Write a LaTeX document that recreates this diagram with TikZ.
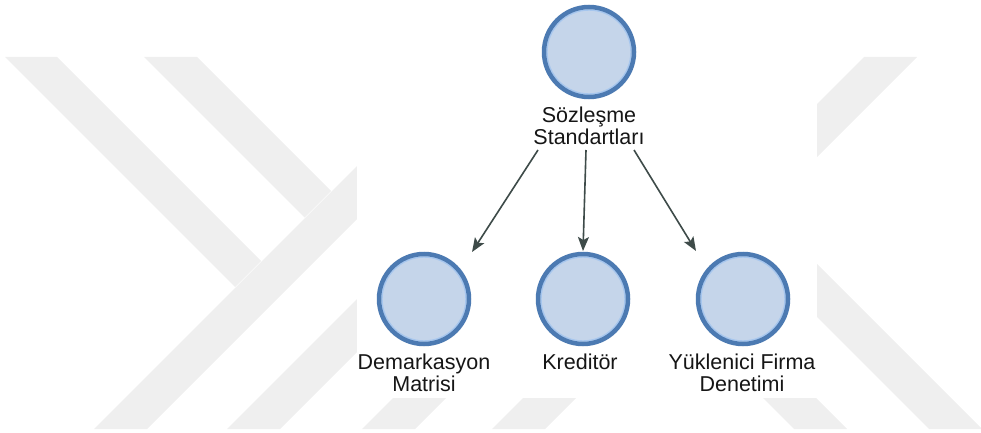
\documentclass[tikz,border=0pt]{standalone}
\usepackage{fontspec}
\setmainfont{Liberation Sans}
\usetikzlibrary{arrows.meta}

\definecolor{mark}{HTML}{EFEFEF}
\definecolor{ring}{HTML}{4C7AB2}
\definecolor{ringhi}{HTML}{A6C6EE}
\definecolor{disc}{HTML}{C5D5EA}
\definecolor{edge}{HTML}{3E4B49}
\definecolor{ink}{HTML}{161616}

\begin{document}
\begin{tikzpicture}[x=1pt,y=-1pt,
  bubble/.style={circle, draw=ring, line width=4.5pt, fill=disc,
    minimum size=90pt, inner sep=0pt,
    path picture={\draw[ringhi, line width=1.4pt]
      (path picture bounding box.center) circle (42pt);}},
  % multi-line captions sit on the baseline of their last line
  caption/.style={font=\fontsize{21.5}{22.5}\selectfont, text=ink,
    align=center, inner sep=0pt, anchor=base},
  link/.style={draw=edge, line width=1.6pt,
    -{Stealth[length=14pt,width=11pt,inset=3pt]}},
  band/.style={fill=mark}
]
\useasboundingbox (0,0) rectangle (981,433);

% faint background emblem: diagonal bands
\begin{scope}
  \clip (0,57) rectangle (981,429);
  % two short descending strokes on the left
  \fill[band] (5,57) -- (57,57) -- (261,261) -- (235,287) -- cycle;
  \fill[band] (144,57) -- (197,57) -- (331,191) -- (304.5,217.5) -- cycle;
  % rising strokes
  \fill[band] (94,429) -- (147,429) -- (519,57) -- (466,57) -- cycle;
  \fill[band] (227,429) -- (280,429) -- (652,57) -- (599,57) -- cycle;
  \fill[band] (362,429) -- (415,429) -- (787,57) -- (734,57) -- cycle;
  \fill[band] (492,429) -- (545,429) -- (917,57) -- (864,57) -- cycle;
  % descending strokes on the right
  \fill[band] (422,57) -- (475,57) -- (847,429) -- (794,429) -- cycle;
  \fill[band] (557,57) -- (610,57) -- (982,429) -- (929,429) -- cycle;
\end{scope}

% white panel behind the diagram
\fill[white] (357,0) rectangle (817,398);

% nodes
\node[bubble] (c0) at (589,52) {};
\node[bubble] (c1) at (424,299) {};
\node[bubble] (c2) at (583,299) {};
\node[bubble] (c3) at (743,299) {};

\node[caption] (l0) at (589,144.5) {Sözleşme\\Standartları};
\node[caption] (l1) at (424,391.5) {Demarkasyon\\Matrisi};
\node[caption] (l2) at (580,369) {Kreditör};
\node[caption] (l3) at (742,391.5) {Yüklenici Firma\\Denetimi};

% connector end points
\coordinate (o1) at (538,150);
\coordinate (o2) at (586,150);
\coordinate (o3) at (634,150);
\coordinate (t1) at (472,252);
\coordinate (t2) at (583,251);
\coordinate (t3) at (696,251);

\draw[link] (o1) -- (t1);
\draw[link] (o2) -- (t2);
\draw[link] (o3) -- (t3);
\end{tikzpicture}
\end{document}
